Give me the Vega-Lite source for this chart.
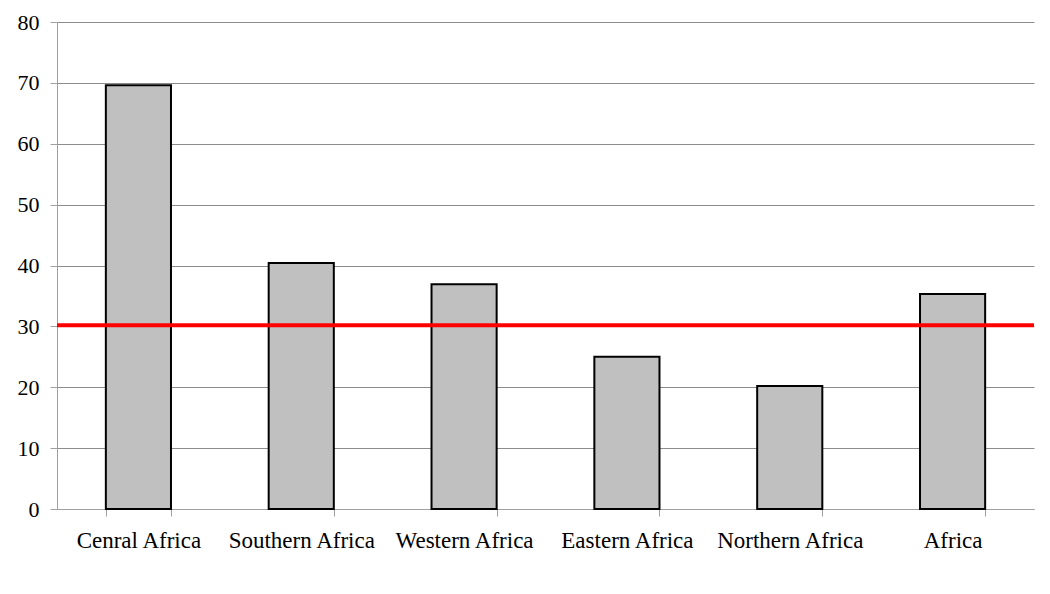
{
  "$schema": "https://vega.github.io/schema/vega-lite/v6.json",
  "width": 977,
  "height": 487,
  "autosize": {"type": "none"},
  "padding": {"left": 57, "top": 22, "right": 16, "bottom": 85},
  "background": "white",
  "config": {
    "view": {"stroke": null},
    "font": "Liberation Serif"
  },
  "datasets": {
    "bars": [
      {"region": "Cenral Africa", "value": 69.6},
      {"region": "Southern Africa", "value": 40.4},
      {"region": "Western Africa", "value": 36.9},
      {"region": "Eastern Africa", "value": 25.0},
      {"region": "Northern Africa", "value": 20.2},
      {"region": "Africa", "value": 35.3}
    ],
    "ref": [{"threshold": 30.2}]
  },
  "layer": [
    {
      "data": {"name": "bars"},
      "mark": {"type": "bar", "fill": "#c0c0c0", "stroke": "#000000", "strokeWidth": 2},
      "encoding": {
        "x": {
          "field": "region",
          "type": "nominal",
          "sort": null,
          "scale": {"paddingInner": 0.6, "paddingOuter": 0.3},
          "axis": {
            "title": null,
            "labelAngle": 0,
            "labelFont": "Liberation Serif",
            "labelFontSize": 23,
            "labelColor": "#000000",
            "labelPadding": 13,
            "tickBand": "extent",
            "tickSize": 7,
            "tickColor": "#a0a0a0",
            "domainColor": "#a0a0a0",
            "domainWidth": 1,
            "grid": false
          }
        },
        "y": {
          "field": "value",
          "type": "quantitative",
          "scale": {"domain": [0, 80]},
          "axis": {
            "title": null,
            "values": [0, 10, 20, 30, 40, 50, 60, 70, 80],
            "labelFont": "Liberation Serif",
            "labelFontSize": 22,
            "labelColor": "#000000",
            "labelPadding": 11,
            "tickSize": 7,
            "tickColor": "#a0a0a0",
            "domainColor": "#a0a0a0",
            "gridColor": "#8c8c8c",
            "gridWidth": 1
          }
        }
      }
    },
    {
      "data": {"name": "ref"},
      "mark": {"type": "rule", "color": "#ff0000", "strokeWidth": 4},
      "encoding": {
        "y": {"field": "threshold", "type": "quantitative"}
      }
    }
  ]
}
